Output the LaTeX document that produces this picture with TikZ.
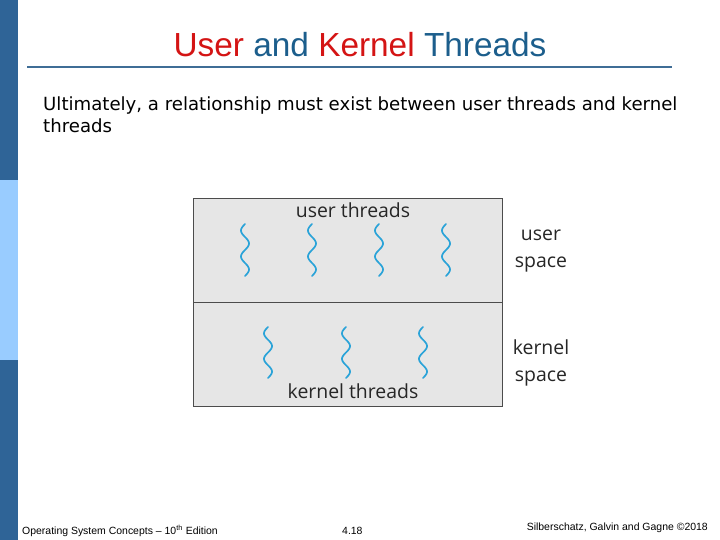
\documentclass[tikz,border=0pt]{standalone}
\usepackage{fontspec}
\usepackage{xcolor}
\usepackage{tikz}
\setmainfont{Liberation Sans}
\newfontfamily\bodyfont{DejaVu Sans}
\newfontfamily\figfont{Open Sans}
\definecolor{barblue}{HTML}{2F6497}
\definecolor{barlight}{HTML}{99CCFF}
\definecolor{titlered}{HTML}{D41414}
\definecolor{titleblue}{HTML}{1C5E8C}
\definecolor{rulecol}{HTML}{3F6D96}
\definecolor{spacebg}{HTML}{E6E6E6}
\definecolor{threadblue}{HTML}{2AA3D8}
\tikzset{space/.style={draw=black!70,line width=0.9pt,fill=spacebg},
  wiggle/.style={threadblue,line width=1.7pt,line cap=round},
  figlabel/.style={font=\figfont\fontsize{19.5}{27}\selectfont,text=black!85,inner sep=0pt},
  foot/.style={font=\fontsize{10.5}{12}\selectfont,inner sep=0pt}}

\begin{document}
\begin{tikzpicture}[x=1bp,y=-1bp]
\useasboundingbox (0,0) rectangle (720,540);
\fill[barblue] (0,0) rectangle (18,540); \fill[barlight] (0,180) rectangle (18,360);
\node[inner sep=0pt,font=\fontsize{33.5}{38}\selectfont] (title) at (360,45) {\textcolor{titlered}{User} \textcolor{titleblue}{and} \textcolor{titlered}{Kernel} \textcolor{titleblue}{Threads}};
\draw[rulecol,line width=3pt] (27,67) -- (672,67);
\node[anchor=north west,inner sep=0pt,align=left,font=\bodyfont\fontsize{18.2}{22}\selectfont] (intro) at (43,97) {Ultimately, a relationship must exist between user threads and kernel\\threads};
% user / kernel space boxes
\draw[space] (193,198) rectangle (502,302); \draw[space] (193,302) rectangle (502,406);
\node[figlabel] (ut) at (353,210) {user threads}; \node[figlabel] (kt) at (353,391) {kernel threads};
\node[figlabel,align=center] (us) at (541,251) {user\\space}; \node[figlabel,align=center] (ks) at (541,363) {kernel\\space};
\foreach \xx in {245,312,379,446}
  \draw[wiggle] plot[domain=0:52,samples=60,smooth] ({\xx-4*sin(\x*13.85)},{224+\x});
\foreach \xx in {268,346,423}
  \draw[wiggle] plot[domain=0:51,samples=60,smooth] ({\xx-4*sin(\x*14.12)},{327+\x});
% footer
\node[foot,anchor=west] (ed) at (22,531) {Operating System Concepts -- 10\textsuperscript{th} Edition};
\node[foot,anchor=west] (pg) at (342,531) {4.18};
\node[foot,anchor=east] (cr) at (708,528) {Silberschatz, Galvin and Gagne \textcopyright 2018};
\end{tikzpicture}
\end{document}
